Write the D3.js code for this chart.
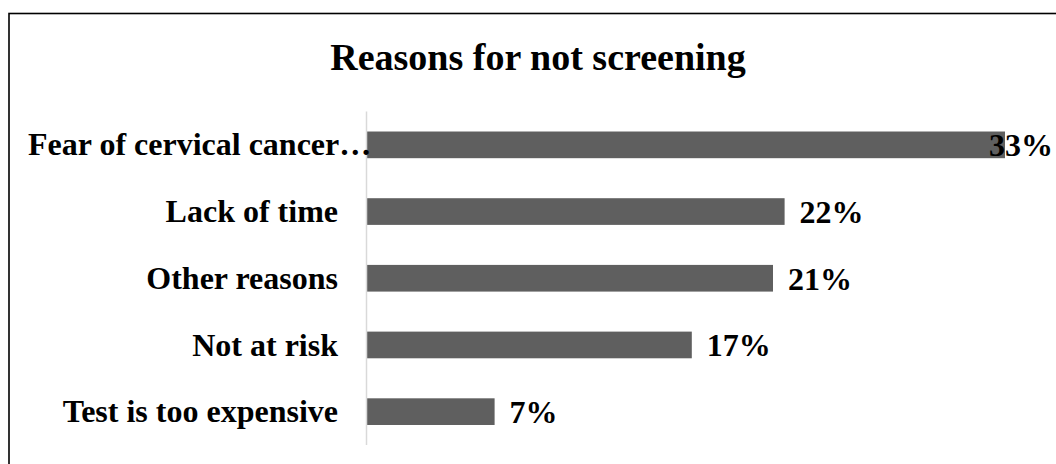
<!DOCTYPE html>
<html>
<head>
<meta charset="utf-8">
<script src="https://cdn.jsdelivr.net/npm/d3@7"></script>
<style>
  html, body { margin: 0; padding: 0; background: #fff; }
  svg { display: block; }
</style>
</head>
<body>
<div id="chart"></div>
<script>
// Chart data (top to bottom)
const categories = [
    'Fear of cervical cancer…',
    'Lack of time',
    'Other reasons',
    'Not at risk',
    'Test is too expensive'
];
const values = [33.0, 21.6, 21.0, 16.8, 6.6];
const chartTitle = 'Reasons for not screening';

const W = 1056, H = 464;
const FONT = '"Liberation Serif", "Times New Roman", serif';

const svg = d3.select('#chart').append('svg')
    .attr('width', W)
    .attr('height', H);

// Outer frame (runs off the right and bottom of the picture)
svg.append('rect')
    .attr('x', 9)
    .attr('y', 13.5)
    .attr('width', 1080)
    .attr('height', 480)
    .attr('fill', 'none')
    .attr('stroke', '#000')
    .attr('stroke-width', 1.6);

// Title
svg.append('text')
    .attr('x', 538)
    .attr('y', 70)
    .attr('text-anchor', 'middle')
    .attr('font-family', FONT)
    .attr('font-weight', 'bold')
    .attr('font-size', '38px')
    .attr('fill', '#000')
    .text(chartTitle);

// Scales
const plotLeft = 367;
const xScale = d3.scaleLinear()
    .domain([0, 33])
    .range([plotLeft, 1005]);

const yScale = d3.scaleBand()
    .domain(categories)
    .range([111.5, 445])
    .paddingInner(0.6)
    .paddingOuter(0.3);

const data = categories.map((c, i) => ({ category: c, value: values[i] }));

// Bars
svg.selectAll('.bar')
    .data(data)
    .enter()
    .append('rect')
    .attr('class', 'bar')
    .attr('x', xScale(0))
    .attr('y', d => yScale(d.category))
    .attr('width', d => xScale(d.value) - xScale(0))
    .attr('height', yScale.bandwidth())
    .attr('fill', '#5f5f5f');

// Vertical category axis line
svg.append('line')
    .attr('x1', plotLeft - 0.5)
    .attr('x2', plotLeft - 0.5)
    .attr('y1', 111.5)
    .attr('y2', 445)
    .attr('stroke', '#d9d9d9')
    .attr('stroke-width', 1.5);

// Category labels: right aligned, long ones spill to the left margin
const labelRight = 338;
const labelLeftLimit = 28;
svg.selectAll('.cat-label')
    .data(data)
    .enter()
    .append('text')
    .attr('class', 'cat-label')
    .attr('y', d => yScale(d.category) + yScale.bandwidth() / 2)
    .attr('dy', '0.33em')
    .attr('font-family', FONT)
    .attr('font-weight', 'bold')
    .attr('font-size', '32px')
    .attr('fill', '#000')
    .text(d => d.category)
    .each(function () {
        const t = d3.select(this);
        const w = this.getComputedTextLength();
        if (labelRight - w < labelLeftLimit) {
            t.attr('x', labelLeftLimit).attr('text-anchor', 'start');
        } else {
            t.attr('x', labelRight).attr('text-anchor', 'end');
        }
    });

// Value labels: outside end, pulled back inside if they hit the edge
const valueRightLimit = 1053;
svg.selectAll('.val-label')
    .data(data)
    .enter()
    .append('text')
    .attr('class', 'val-label')
    .attr('y', d => yScale(d.category) + yScale.bandwidth() / 2)
    .attr('dy', '0.36em')
    .attr('font-family', FONT)
    .attr('font-weight', 'bold')
    .attr('font-size', '32px')
    .attr('fill', '#000')
    .text(d => Math.round(d.value) + '%')
    .each(function (d) {
        const t = d3.select(this);
        const w = this.getComputedTextLength();
        const x0 = xScale(d.value) + 15;
        if (x0 + w > valueRightLimit) {
            t.attr('x', valueRightLimit).attr('text-anchor', 'end');
        } else {
            t.attr('x', x0).attr('text-anchor', 'start');
        }
    });
</script>
</body>
</html>
